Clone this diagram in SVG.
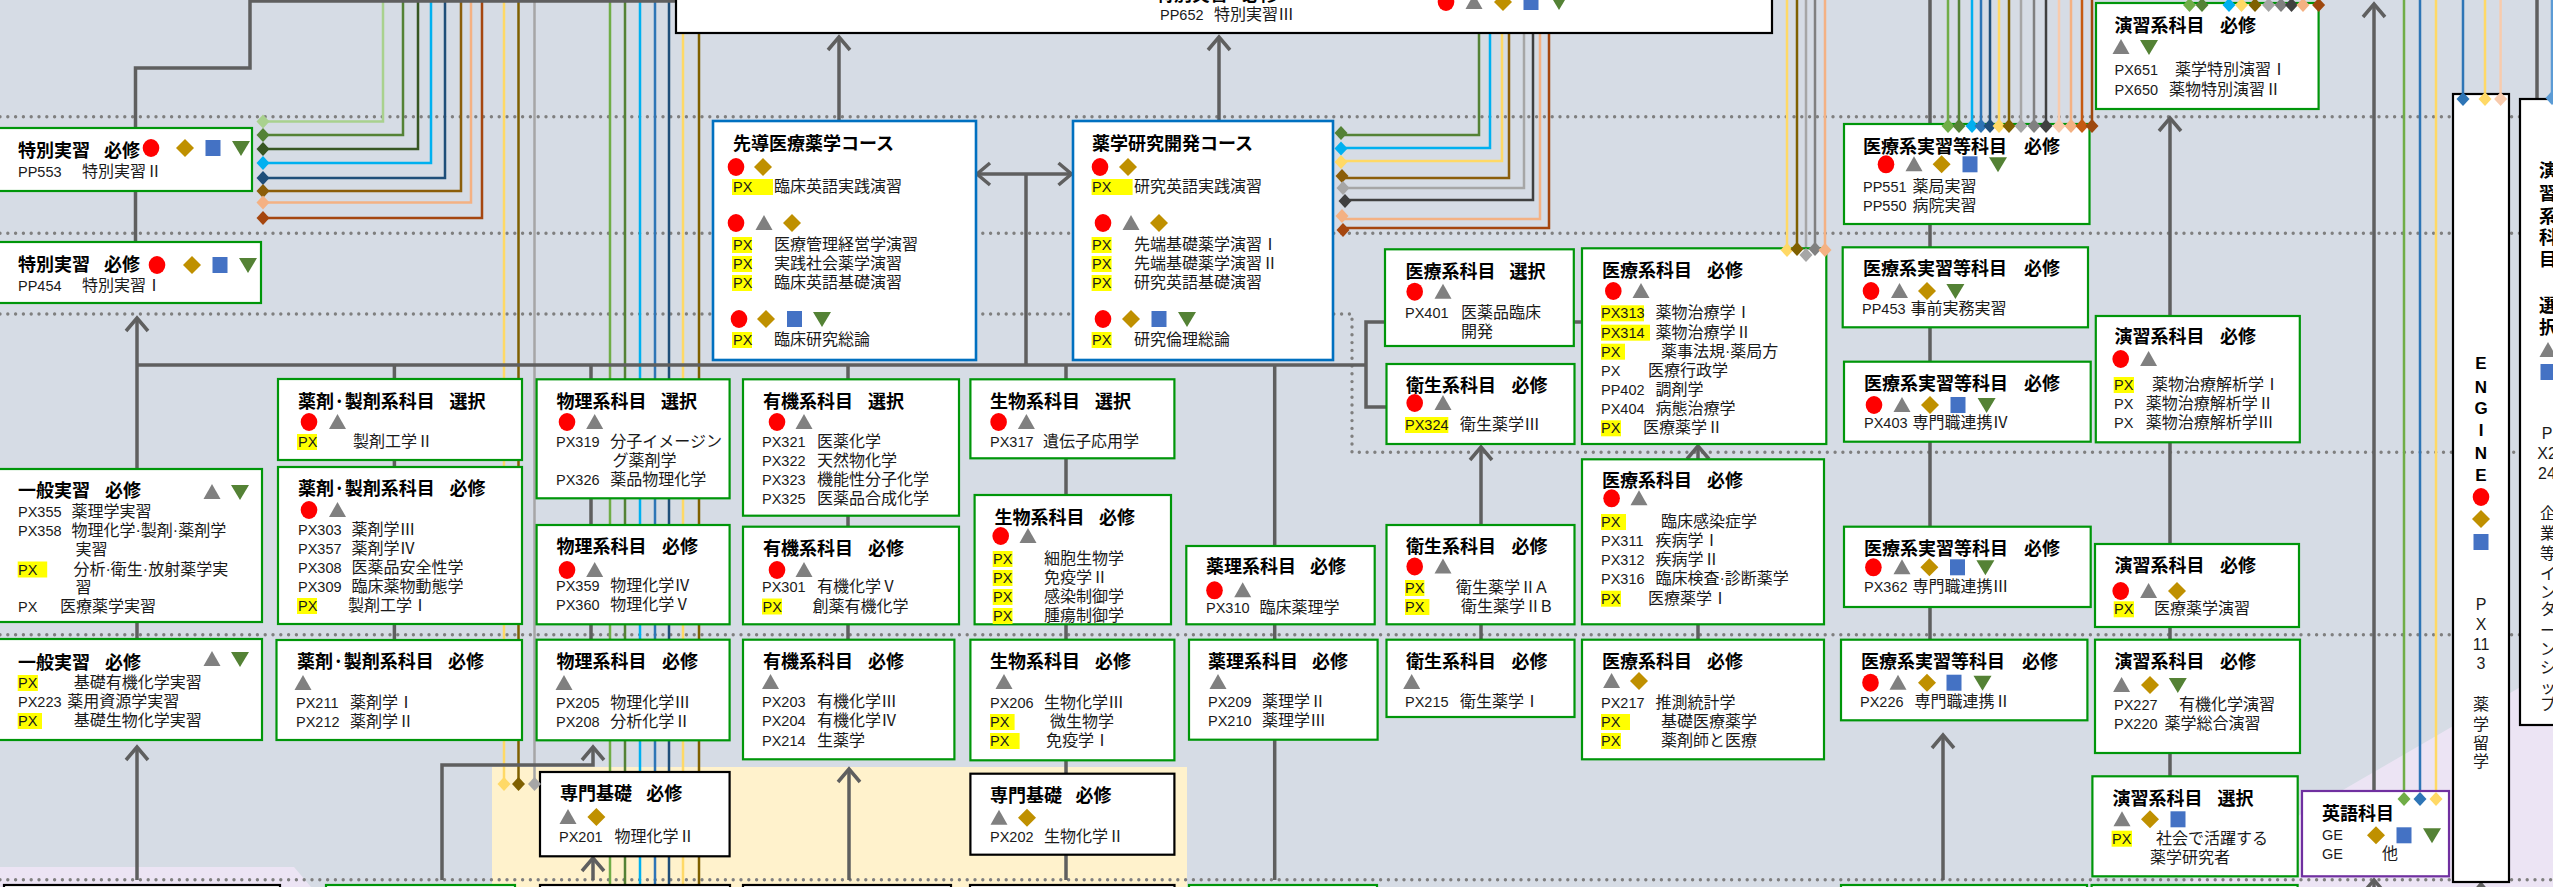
<svg xmlns="http://www.w3.org/2000/svg" width="2553" height="887" viewBox="0 0 2553 887">
<style>
.bg{fill:#D6DCE5}
.n{fill:#fff;stroke:#00960A;stroke-width:2.2}
.nc{fill:#fff;stroke:#0070C0;stroke-width:2.6}
.nk{fill:#fff;stroke:#000;stroke-width:2.2}
.np{fill:#fff;stroke:#7030A0;stroke-width:2.2}
.t{font-family:"Noto Sans CJK JP",sans-serif;font-weight:700;font-size:18px;fill:#000}
.b{font-family:"Liberation Sans","Noto Sans CJK JP",sans-serif;font-size:16px;fill:#1a1a1a}
.c{font-size:14.5px}
.m{text-anchor:middle}
.e{font-family:"Liberation Sans",sans-serif;font-weight:700;font-size:17px;fill:#000;text-anchor:middle}
.hl{fill:#FFFF00}
.g{fill:none;stroke:#5F5F5F;stroke-width:3.5}
.ga{fill:none;stroke:#5F5F5F;stroke-width:3.5;marker-end:url(#ar)}
.cl{fill:none;stroke-width:2.5}
.dt{fill:none;stroke:#7F7F7F;stroke-width:3.4;stroke-dasharray:0 7.8;stroke-linecap:round}
</style>
<defs>
<marker id="ar" markerUnits="userSpaceOnUse" viewBox="-16 -13 20 26" refX="0" refY="0" markerWidth="20" markerHeight="26" orient="auto-start-reverse">
<path d="M-13,-11 L0,0 L-13,11" fill="none" stroke="#5F5F5F" stroke-width="3.5"/>
</marker>
<ellipse id="ic-c" rx="8.3" ry="9" fill="#FF0000"/>
<path id="ic-t" d="M0,-8 L8.5,7 L-8.5,7Z" fill="#808080"/>
<path id="ic-d" d="M0,-9 L9,0 L0,9 L-9,0Z" fill="#BF9000"/>
<rect id="ic-s" x="-7.5" y="-8" width="15" height="16" fill="#4472C4"/>
<path id="ic-v" d="M-9,-7 L9,-7 L0,8Z" fill="#548235"/>
<path id="dm" d="M0,-7 L6.5,0 L0,7 L-6.5,0Z"/>
</defs>

<rect class="bg" x="0" y="0" width="2553" height="887"/>
<g id="regions">
<rect x="492" y="767" width="695" height="120" fill="#FFF2CC"/>
<polygon points="0,867 294,867 311,887 0,887" fill="#ECE4F4"/>
<polygon points="2176,887 2553,668 2553,887" fill="#ECE4F4"/>
</g>

<g id="grid">
<path class="dt" d="M0,116.7H2553"/>
<path class="dt" d="M0,233.3H2553"/>
<path class="dt" d="M0,314H1352V452.3H2553"/>
<path class="dt" d="M0,634.7H2553"/>
<path class="dt" d="M0,879.7H2553"/>
</g>

<g id="connectors">
<path class="cl" stroke="#A9D18E" d="M383,0V121.5H263"/>
<path class="cl" stroke="#548235" d="M403,0V135H263"/>
<path class="cl" stroke="#375623" d="M418,0V149H263"/>
<path class="cl" stroke="#00B0F0" d="M431,0V163H263"/>
<path class="cl" stroke="#1F4E79" d="M445,0V178H263"/>
<path class="cl" stroke="#8B5E0A" d="M461,0V191H263"/>
<path class="cl" stroke="#F4B183" d="M471,0V202.5H263"/>
<path class="cl" stroke="#A5460F" d="M482,0V218H263"/>
<path class="cl" stroke="#FFD966" d="M504,0V784"/>
<path class="cl" stroke="#7F6000" d="M518.5,0V784"/>
<path class="cl" stroke="#A6A6A6" d="M534.5,0V784"/>
<path class="cl" stroke="#70AD47" d="M610,0V887"/>
<path class="cl" stroke="#548235" d="M625,0V887"/>
<path class="cl" stroke="#00B0F0" d="M640,0V887"/>
<path class="cl" stroke="#2E75B6" d="M655,0V887"/>
<path class="cl" stroke="#1F4E79" d="M669,0V887"/>
<path class="cl" stroke="#FFD966" d="M683,0V887"/>
<path class="cl" stroke="#7F6000" d="M699,0V887"/>
<path class="cl" stroke="#548235" d="M1479,33V135H1342"/>
<path class="cl" stroke="#00B0F0" d="M1490,33V148H1342"/>
<path class="cl" stroke="#FFD966" d="M1502,33V161H1342"/>
<path class="cl" stroke="#8B5E0A" d="M1509,33V178H1342"/>
<path class="cl" stroke="#A6A6A6" d="M1524,33V188H1342"/>
<path class="cl" stroke="#404040" d="M1533,33V200H1342"/>
<path class="cl" stroke="#F4B183" d="M1540,33V219H1342"/>
<path class="cl" stroke="#A5460F" d="M1549,33V228H1342"/>
<path class="cl" stroke="#FFD966" d="M1787,0V249"/>
<path class="cl" stroke="#7F6000" d="M1797,0V249"/>
<path class="cl" stroke="#A6A6A6" d="M1806,0V255"/>
<path class="cl" stroke="#808080" d="M1815,0V249"/>
<path class="cl" stroke="#F4B183" d="M1825,0V250"/>
<path class="cl" stroke="#70AD47" d="M1948,0V126"/>
<path class="cl" stroke="#548235" d="M1959,0V126"/>
<path class="cl" stroke="#00B0F0" d="M1972,0V126"/>
<path class="cl" stroke="#2E75B6" d="M1981,0V126"/>
<path class="cl" stroke="#1F4E79" d="M1990,0V126"/>
<path class="cl" stroke="#FFD966" d="M1999,0V126"/>
<path class="cl" stroke="#7F6000" d="M2009,0V126"/>
<path class="cl" stroke="#A6A6A6" d="M2021,0V126"/>
<path class="cl" stroke="#808080" d="M2034,0V126"/>
<path class="cl" stroke="#404040" d="M2046,0V126"/>
<path class="cl" stroke="#F8CBAD" d="M2059,0V126"/>
<path class="cl" stroke="#F4B183" d="M2071,0V126"/>
<path class="cl" stroke="#C55A11" d="M2082,0V126"/>
<path class="cl" stroke="#9E480E" d="M2092,0V126"/>
<path class="cl" stroke="#70AD47" d="M2404,0V799"/>
<path class="cl" stroke="#2E75B6" d="M2420,0V799"/>
<path class="cl" stroke="#FFD966" d="M2436,0V799"/>
<path class="cl" stroke="#2E75B6" d="M2463,0V99"/>
<path class="cl" stroke="#FFD966" d="M2485,0V99"/>
<path class="cl" stroke="#F8CBAD" d="M2500.6,0V99"/>
<path class="cl" stroke="#5B9BD5" d="M2552,0V98"/>

<path class="g" d="M135.5,242V68H250V1H676"/>
<path class="ga" d="M137,468V318"/>
<path class="g" d="M137,365H1366"/>
<path class="g" d="M394.4,365V379M394.4,460V467M394.4,624V640"/>
<path class="g" d="M591,365V379M591,498V525M591,624V640"/>
<path class="g" d="M848,365V379M848,516V527M848,624V640"/>
<path class="g" d="M1066,365V379M1066,458V495M1066,624V640M1066,760V774M1066,855V880"/>
<path class="g" d="M1274.7,365V546M1274.7,624V640M1274.7,740V880"/>
<path class="g" d="M1026,174V365"/>
<path class="g" style="marker-start:url(#ar);marker-end:url(#ar)" d="M977,174H1071.5"/>
<path class="ga" d="M839,121V37"/>
<path class="ga" d="M1219,121V37"/>
<path class="g" d="M1366,365V322H1385M1366,365V407H1386.5M1574,322H1582"/>
<path class="g" d="M137,622V639"/>
<path class="ga" d="M137,880V747"/>
<path class="ga" d="M442,880V765H593V747"/>
<path class="ga" d="M593,880V858"/>
<path class="ga" d="M849,880V769"/>
<path class="ga" d="M1481,525V447"/>
<path class="g" d="M1481,624V640"/>
<path class="ga" d="M1698,459V446"/>
<path class="g" d="M1698,624V640"/>
<path class="g" d="M1930,0V124M1930,224V247M1930,327V362M1930,442V527M1930,607V640"/>
<path class="ga" d="M1943,880V735"/>
<path class="ga" d="M2170,316V118"/>
<path class="g" d="M2170,442V544M2170,627V640M2170,753V776"/>
<path class="ga" d="M2374,791V4"/>
<path class="g" d="M2537,0V99"/>
<path class="ga" d="M2374,900V880"/>
<path class="ga" d="M2481,900V884"/>
</g>

<g id="next-row-boxes">
<rect class="nk" x="4" y="885" width="276" height="30"/>
<rect class="n" x="326" y="885" width="189" height="30"/>
<rect class="nk" x="540" y="885" width="190" height="30"/>
<rect class="nk" x="743" y="885" width="208" height="30"/>
<rect class="nk" x="970" y="885" width="204.5" height="30"/>
<rect class="n" x="1189" y="885" width="188" height="30"/>
<rect class="n" x="1841" y="885" width="246" height="30"/>
<rect class="n" x="2091.6" y="885" width="206" height="30"/>
</g>

<g id="n-tokubetsu3">
<rect class="nk" x="676" y="-10" width="1096" height="43"/>
<text class="t" x="1156" y="1">特別実習<tspan x="1242">必修</tspan></text>
<use href="#ic-c" x="1446" y="2"/><use href="#ic-t" x="1474" y="2"/><use href="#ic-d" x="1503" y="2"/><use href="#ic-s" x="1531" y="2"/><use href="#ic-v" x="1559" y="2"/>
<text class="b" y="20"><tspan class="c" x="1160">PP652</tspan><tspan x="1214">特別実習Ⅲ</tspan></text>
</g>

<g id="n-pp553">
<rect class="n" x="-3" y="128" width="255" height="63"/>
<text class="t" x="18" y="157">特別実習<tspan x="104">必修</tspan></text>
<use href="#ic-c" x="151" y="148"/><use href="#ic-d" x="185" y="148"/><use href="#ic-s" x="213" y="148"/><use href="#ic-v" x="241" y="148"/>
<text class="b" y="177"><tspan class="c" x="18">PP553</tspan><tspan x="82">特別実習Ⅱ</tspan></text>
</g>

<g id="n-pp454">
<rect class="n" x="-3" y="242" width="264" height="61"/>
<text class="t" x="18" y="271">特別実習<tspan x="104">必修</tspan></text>
<use href="#ic-c" x="157" y="265"/><use href="#ic-d" x="192" y="265"/><use href="#ic-s" x="220" y="265"/><use href="#ic-v" x="248" y="265"/>
<text class="b" y="291"><tspan class="c" x="18">PP454</tspan><tspan x="82">特別実習Ⅰ</tspan></text>
</g>

<g id="n-course1">
<rect class="nc" x="713" y="121" width="263" height="239"/>
<text class="t" x="733" y="150">先導医療薬学コース</text>
<use href="#ic-c" x="736" y="167"/><use href="#ic-d" x="763" y="167"/>
<rect class="hl" x="732" y="179" width="41" height="16"/>
<text class="b" y="192"><tspan class="c" x="733">PX</tspan><tspan x="774">臨床英語実践演習</tspan></text>
<use href="#ic-c" x="736" y="223"/><use href="#ic-t" x="764" y="223"/><use href="#ic-d" x="792" y="223"/>
<rect class="hl" x="732" y="237" width="20" height="16"/>
<rect class="hl" x="732" y="256" width="20" height="16"/>
<rect class="hl" x="732" y="275" width="20" height="16"/>
<text class="b" y="250"><tspan class="c" x="733">PX</tspan><tspan x="774">医療管理経営学演習</tspan></text>
<text class="b" y="269"><tspan class="c" x="733">PX</tspan><tspan x="774">実践社会薬学演習</tspan></text>
<text class="b" y="288"><tspan class="c" x="733">PX</tspan><tspan x="774">臨床英語基礎演習</tspan></text>
<use href="#ic-c" x="739" y="319"/><use href="#ic-d" x="766" y="319"/><use href="#ic-s" x="794.5" y="319"/><use href="#ic-v" x="822" y="319"/>
<rect class="hl" x="732" y="332" width="20" height="16"/>
<text class="b" y="345"><tspan class="c" x="733">PX</tspan><tspan x="774">臨床研究総論</tspan></text>
</g>

<g id="n-course2">
<rect class="nc" x="1073" y="121" width="260" height="239"/>
<text class="t" x="1092" y="150">薬学研究開発コース</text>
<use href="#ic-c" x="1100" y="167"/><use href="#ic-d" x="1128" y="167"/>
<rect class="hl" x="1091.6" y="179" width="41" height="16"/>
<text class="b" y="192"><tspan class="c" x="1092">PX</tspan><tspan x="1134">研究英語実践演習</tspan></text>
<use href="#ic-c" x="1103" y="223"/><use href="#ic-t" x="1131" y="223"/><use href="#ic-d" x="1159" y="223"/>
<rect class="hl" x="1091.6" y="237" width="20" height="16"/>
<rect class="hl" x="1091.6" y="256" width="20" height="16"/>
<rect class="hl" x="1091.6" y="275" width="20" height="16"/>
<text class="b" y="250"><tspan class="c" x="1092">PX</tspan><tspan x="1134">先端基礎薬学演習Ⅰ</tspan></text>
<text class="b" y="269"><tspan class="c" x="1092">PX</tspan><tspan x="1134">先端基礎薬学演習Ⅱ</tspan></text>
<text class="b" y="288"><tspan class="c" x="1092">PX</tspan><tspan x="1134">研究英語基礎演習</tspan></text>
<use href="#ic-c" x="1103" y="319"/><use href="#ic-d" x="1131" y="319"/><use href="#ic-s" x="1159" y="319"/><use href="#ic-v" x="1187" y="319"/>
<rect class="hl" x="1091.6" y="332" width="20" height="16"/>
<text class="b" y="345"><tspan class="c" x="1092">PX</tspan><tspan x="1134">研究倫理総論</tspan></text>
</g>

<g id="n-yakuzai-s">
<rect class="n" x="278" y="379" width="244" height="81"/>
<text class="t" x="298" y="408">薬剤·製剤系科目<tspan x="449.5">選択</tspan></text>
<use href="#ic-c" x="309" y="422"/><use href="#ic-t" x="337.5" y="422"/>
<rect class="hl" x="297" y="434" width="20" height="16"/>
<text class="b" y="447"><tspan class="c" x="298">PX</tspan><tspan x="353">製剤工学Ⅱ</tspan></text>
</g>

<g id="n-yakuzai-r1">
<rect class="n" x="278" y="467" width="244" height="157"/>
<text class="t" x="298" y="495">薬剤·製剤系科目<tspan x="449.5">必修</tspan></text>
<use href="#ic-c" x="309" y="510"/><use href="#ic-t" x="337.5" y="510"/>
<text class="b" y="535"><tspan class="c" x="298">PX303</tspan><tspan x="351.5">薬剤学Ⅲ</tspan></text>
<text class="b" y="554"><tspan class="c" x="298">PX357</tspan><tspan x="351.5">薬剤学Ⅳ</tspan></text>
<text class="b" y="573"><tspan class="c" x="298">PX308</tspan><tspan x="351.5">医薬品安全性学</tspan></text>
<text class="b" y="592"><tspan class="c" x="298">PX309</tspan><tspan x="351.5">臨床薬物動態学</tspan></text>
<rect class="hl" x="297" y="598" width="20" height="16"/>
<text class="b" y="611"><tspan class="c" x="298">PX</tspan><tspan x="348">製剤工学Ⅰ</tspan></text>
</g>

<g id="n-ippan-1">
<rect class="n" x="-3" y="469" width="265" height="153"/>
<text class="t" x="18" y="497">一般実習<tspan x="105">必修</tspan></text>
<use href="#ic-t" x="212" y="492"/><use href="#ic-v" x="240" y="492"/>
<text class="b" y="517"><tspan class="c" x="18">PX355</tspan><tspan x="71.5">薬理学実習</tspan></text>
<text class="b" y="536"><tspan class="c" x="18">PX358</tspan><tspan x="71.5">物理化学·製剤·薬剤学</tspan></text>
<text class="b" x="75.5" y="555">実習</text>
<rect class="hl" x="17.7" y="561.5" width="29.5" height="16"/>
<text class="b" y="574.5"><tspan class="c" x="18">PX</tspan><tspan x="73.5">分析·衛生·放射薬学実</tspan></text>
<text class="b" x="75.5" y="593">習</text>
<text class="b" y="612"><tspan class="c" x="18">PX</tspan><tspan x="60">医療薬学実習</tspan></text>
</g>

<g id="n-ippan-2">
<rect class="n" x="-3" y="639" width="265" height="101"/>
<text class="t" x="18" y="669">一般実習<tspan x="105">必修</tspan></text>
<use href="#ic-t" x="212" y="659"/><use href="#ic-v" x="240" y="659"/>
<rect class="hl" x="17.7" y="675" width="20.2" height="16"/>
<text class="b" y="688"><tspan class="c" x="18">PX</tspan><tspan x="73.7">基礎有機化学実習</tspan></text>
<text class="b" y="707"><tspan class="c" x="18">PX223</tspan><tspan x="67.3">薬用資源学実習</tspan></text>
<rect class="hl" x="17.7" y="713" width="24.3" height="16"/>
<text class="b" y="726"><tspan class="c" x="18">PX</tspan><tspan x="73.7">基礎生物化学実習</tspan></text>
</g>

<g id="n-yakuzai-r2">
<rect class="n" x="276.5" y="640" width="245.5" height="100"/>
<text class="t" x="297" y="668">薬剤·製剤系科目<tspan x="448">必修</tspan></text>
<use href="#ic-t" x="303" y="683"/>
<text class="b" y="707.5"><tspan class="c" x="296">PX211</tspan><tspan x="350">薬剤学Ⅰ</tspan></text>
<text class="b" y="727"><tspan class="c" x="296">PX212</tspan><tspan x="350">薬剤学Ⅱ</tspan></text>
</g>

<g id="n-butsuri-s">
<rect class="n" x="536.6" y="379.3" width="193" height="119"/>
<text class="t" x="556.4" y="408">物理系科目<tspan x="661">選択</tspan></text>
<use href="#ic-c" x="567" y="422"/><use href="#ic-t" x="594.7" y="422"/>
<text class="b" y="447"><tspan class="c" x="556">PX319</tspan><tspan x="610.3">分子イメージン</tspan></text>
<text class="b" x="612.4" y="466">グ薬剤学</text>
<text class="b" y="485"><tspan class="c" x="556">PX326</tspan><tspan x="610.3">薬品物理化学</tspan></text>
</g>

<g id="n-butsuri-r1">
<rect class="n" x="536.6" y="525" width="193" height="99.3"/>
<text class="t" x="556.4" y="553.3">物理系科目<tspan x="662">必修</tspan></text>
<use href="#ic-c" x="567" y="570"/><use href="#ic-t" x="594.7" y="570"/>
<text class="b" y="590.5"><tspan class="c" x="556">PX359</tspan><tspan x="610.3">物理化学Ⅳ</tspan></text>
<text class="b" y="610"><tspan class="c" x="556">PX360</tspan><tspan x="610.3">物理化学Ⅴ</tspan></text>
</g>

<g id="n-butsuri-r2">
<rect class="n" x="536.6" y="639.7" width="193" height="100.6"/>
<text class="t" x="556.4" y="668">物理系科目<tspan x="662">必修</tspan></text>
<use href="#ic-t" x="564" y="683"/>
<text class="b" y="707.5"><tspan class="c" x="556">PX205</tspan><tspan x="610.3">物理化学Ⅲ</tspan></text>
<text class="b" y="727"><tspan class="c" x="556">PX208</tspan><tspan x="610.3">分析化学Ⅱ</tspan></text>
</g>

<g id="n-senmon-1">
<rect class="nk" x="540" y="772" width="189.6" height="84.3"/>
<text class="t" x="560" y="800">専門基礎<tspan x="646.3">必修</tspan></text>
<use href="#ic-t" x="568" y="817"/><use href="#ic-d" x="596.4" y="817"/>
<text class="b" y="842"><tspan class="c" x="559">PX201</tspan><tspan x="614.5">物理化学Ⅱ</tspan></text>
</g>

<g id="n-yuki-s">
<rect class="n" x="743" y="379.3" width="216" height="136.4"/>
<text class="t" x="763" y="408">有機系科目<tspan x="868">選択</tspan></text>
<use href="#ic-c" x="777" y="422"/><use href="#ic-t" x="804" y="422"/>
<text class="b" y="447"><tspan class="c" x="762">PX321</tspan><tspan x="817">医薬化学</tspan></text>
<text class="b" y="466"><tspan class="c" x="762">PX322</tspan><tspan x="817">天然物化学</tspan></text>
<text class="b" y="485"><tspan class="c" x="762">PX323</tspan><tspan x="817">機能性分子化学</tspan></text>
<text class="b" y="504.3"><tspan class="c" x="762">PX325</tspan><tspan x="817">医薬品合成化学</tspan></text>
</g>

<g id="n-yuki-r1">
<rect class="n" x="743" y="526.7" width="216" height="97.6"/>
<text class="t" x="763" y="555">有機系科目<tspan x="868">必修</tspan></text>
<use href="#ic-c" x="777" y="570"/><use href="#ic-t" x="804" y="570"/>
<text class="b" y="592"><tspan class="c" x="762">PX301</tspan><tspan x="817">有機化学Ⅴ</tspan></text>
<rect class="hl" x="762" y="598.5" width="20" height="16"/>
<text class="b" y="611.5"><tspan class="c" x="762.5">PX</tspan><tspan x="812.6">創薬有機化学</tspan></text>
</g>

<g id="n-yuki-r2">
<rect class="n" x="743" y="639.7" width="211.4" height="119.6"/>
<text class="t" x="763" y="668">有機系科目<tspan x="868">必修</tspan></text>
<use href="#ic-t" x="770.5" y="682"/>
<text class="b" y="707"><tspan class="c" x="762">PX203</tspan><tspan x="817">有機化学Ⅲ</tspan></text>
<text class="b" y="726.3"><tspan class="c" x="762">PX204</tspan><tspan x="817">有機化学Ⅳ</tspan></text>
<text class="b" y="745.5"><tspan class="c" x="762">PX214</tspan><tspan x="817">生薬学</tspan></text>
</g>

<g id="n-seibutsu-s">
<rect class="n" x="970.4" y="379.3" width="204" height="79"/>
<text class="t" x="990" y="408">生物系科目<tspan x="1095">選択</tspan></text>
<use href="#ic-c" x="998.6" y="422"/><use href="#ic-t" x="1026.4" y="422"/>
<text class="b" y="446.5"><tspan class="c" x="990">PX317</tspan><tspan x="1043">遺伝子応用学</tspan></text>
</g>

<g id="n-seibutsu-r1">
<rect class="n" x="974.6" y="495" width="196.4" height="129.3"/>
<text class="t" x="994.4" y="523.5">生物系科目<tspan x="1099">必修</tspan></text>
<use href="#ic-c" x="1000.7" y="536"/><use href="#ic-t" x="1028" y="536"/>
<rect class="hl" x="992.7" y="551" width="19.8" height="16"/>
<rect class="hl" x="992.7" y="570" width="19.8" height="16"/>
<rect class="hl" x="992.7" y="589" width="19.8" height="16"/>
<rect class="hl" x="992.7" y="608" width="19.8" height="16"/>
<text class="b" y="564"><tspan class="c" x="993">PX</tspan><tspan x="1044">細胞生物学</tspan></text>
<text class="b" y="583"><tspan class="c" x="993">PX</tspan><tspan x="1044">免疫学Ⅱ</tspan></text>
<text class="b" y="602"><tspan class="c" x="993">PX</tspan><tspan x="1044">感染制御学</tspan></text>
<text class="b" y="621"><tspan class="c" x="993">PX</tspan><tspan x="1044">腫瘍制御学</tspan></text>
</g>

<g id="n-seibutsu-r2">
<rect class="n" x="970.4" y="639.7" width="204" height="120.6"/>
<text class="t" x="990" y="668">生物系科目<tspan x="1095">必修</tspan></text>
<use href="#ic-t" x="1004" y="682"/>
<text class="b" y="707.5"><tspan class="c" x="990">PX206</tspan><tspan x="1044">生物化学Ⅲ</tspan></text>
<rect class="hl" x="990" y="714" width="24.6" height="16"/>
<text class="b" y="727"><tspan class="c" x="990">PX</tspan><tspan x="1050">微生物学</tspan></text>
<rect class="hl" x="990" y="733" width="29.6" height="16"/>
<text class="b" y="746"><tspan class="c" x="990">PX</tspan><tspan x="1046">免疫学Ⅰ</tspan></text>
</g>

<g id="n-senmon-2">
<rect class="nk" x="970.4" y="773.7" width="204" height="81"/>
<text class="t" x="990" y="802">専門基礎<tspan x="1075.6">必修</tspan></text>
<use href="#ic-t" x="999" y="817.7"/><use href="#ic-d" x="1027" y="817.7"/>
<text class="b" y="842"><tspan class="c" x="990">PX202</tspan><tspan x="1044">生物化学Ⅱ</tspan></text>
</g>

<g id="n-yakuri-1">
<rect class="n" x="1186.3" y="546" width="188.4" height="78.3"/>
<text class="t" x="1206" y="573.3">薬理系科目<tspan x="1310">必修</tspan></text>
<use href="#ic-c" x="1214.5" y="590.3"/><use href="#ic-t" x="1242.7" y="590.3"/>
<text class="b" y="613"><tspan class="c" x="1206">PX310</tspan><tspan x="1259.5">臨床薬理学</tspan></text>
</g>

<g id="n-yakuri-2">
<rect class="n" x="1189" y="639.7" width="188.6" height="100"/>
<text class="t" x="1208" y="668">薬理系科目<tspan x="1312">必修</tspan></text>
<use href="#ic-t" x="1218" y="682"/>
<text class="b" y="707"><tspan class="c" x="1208">PX209</tspan><tspan x="1262">薬理学Ⅱ</tspan></text>
<text class="b" y="726.3"><tspan class="c" x="1208">PX210</tspan><tspan x="1262">薬理学Ⅲ</tspan></text>
</g>

<g id="n-iryo-s">
<rect class="n" x="1385" y="249.3" width="188.8" height="96.7"/>
<text class="t" x="1405.4" y="278.3">医療系科目<tspan x="1509.4">選択</tspan></text>
<use href="#ic-c" x="1414.7" y="291.7"/><use href="#ic-t" x="1443" y="291.7"/>
<text class="b" y="317.7"><tspan class="c" x="1405">PX401</tspan><tspan x="1461">医薬品臨床</tspan></text>
<text class="b" x="1461" y="336.7">開発</text>
</g>

<g id="n-eisei-3">
<rect class="n" x="1386.5" y="364" width="188" height="80"/>
<text class="t" x="1406" y="391.7">衛生系科目<tspan x="1511.5">必修</tspan></text>
<use href="#ic-c" x="1414.7" y="403"/><use href="#ic-t" x="1443" y="403"/>
<rect class="hl" x="1405" y="417" width="43.3" height="16"/>
<text class="b" y="430"><tspan class="c" x="1405">PX324</tspan><tspan x="1460">衛生薬学Ⅲ</tspan></text>
</g>

<g id="n-iryo-r1">
<rect class="n" x="1582" y="248.3" width="244.3" height="195.7"/>
<text class="t" x="1602" y="276.7">医療系科目<tspan x="1707">必修</tspan></text>
<use href="#ic-c" x="1613.3" y="291"/><use href="#ic-t" x="1641" y="291"/>
<rect class="hl" x="1601" y="305.3" width="43" height="16"/>
<rect class="hl" x="1601" y="324.7" width="49" height="16"/>
<rect class="hl" x="1601" y="343.7" width="24" height="16"/>
<rect class="hl" x="1601" y="420.3" width="20" height="16"/>
<text class="b" y="318.3"><tspan class="c" x="1601">PX313</tspan><tspan x="1655.4">薬物治療学Ⅰ</tspan></text>
<text class="b" y="337.7"><tspan class="c" x="1601">PX314</tspan><tspan x="1655.4">薬物治療学Ⅱ</tspan></text>
<text class="b" y="356.7"><tspan class="c" x="1601">PX</tspan><tspan x="1661">薬事法規·薬局方</tspan></text>
<text class="b" y="376"><tspan class="c" x="1601">PX</tspan><tspan x="1648">医療行政学</tspan></text>
<text class="b" y="395"><tspan class="c" x="1601">PP402</tspan><tspan x="1655.4">調剤学</tspan></text>
<text class="b" y="414"><tspan class="c" x="1601">PX404</tspan><tspan x="1655.4">病態治療学</tspan></text>
<text class="b" y="433.3"><tspan class="c" x="1601">PX</tspan><tspan x="1643">医療薬学Ⅱ</tspan></text>
</g>

<g id="n-iryo-r2">
<rect class="n" x="1582" y="459.3" width="242" height="165"/>
<text class="t" x="1602" y="487.3">医療系科目<tspan x="1707">必修</tspan></text>
<use href="#ic-c" x="1611.6" y="498.3"/><use href="#ic-t" x="1639" y="498.3"/>
<rect class="hl" x="1601" y="514" width="25" height="16"/>
<rect class="hl" x="1601" y="590.7" width="20" height="16"/>
<text class="b" y="527"><tspan class="c" x="1601">PX</tspan><tspan x="1661">臨床感染症学</tspan></text>
<text class="b" y="546"><tspan class="c" x="1601">PX311</tspan><tspan x="1655.4">疾病学Ⅰ</tspan></text>
<text class="b" y="565"><tspan class="c" x="1601">PX312</tspan><tspan x="1655.4">疾病学Ⅱ</tspan></text>
<text class="b" y="584"><tspan class="c" x="1601">PX316</tspan><tspan x="1655.4">臨床検査·診断薬学</tspan></text>
<text class="b" y="603.7"><tspan class="c" x="1601">PX</tspan><tspan x="1648">医療薬学Ⅰ</tspan></text>
</g>

<g id="n-eisei-2">
<rect class="n" x="1386.5" y="525" width="188" height="99.3"/>
<text class="t" x="1406" y="553.3">衛生系科目<tspan x="1511.5">必修</tspan></text>
<use href="#ic-c" x="1414.7" y="566.5"/><use href="#ic-t" x="1443" y="566.5"/>
<rect class="hl" x="1405" y="580" width="19.4" height="16"/>
<rect class="hl" x="1405" y="599" width="24.4" height="16"/>
<text class="b" y="593"><tspan class="c" x="1405">PX</tspan><tspan x="1456">衛生薬学ⅡA</tspan></text>
<text class="b" y="612"><tspan class="c" x="1405">PX</tspan><tspan x="1461">衛生薬学ⅡB</tspan></text>
</g>

<g id="n-eisei-1">
<rect class="n" x="1386.5" y="639.7" width="188" height="77.3"/>
<text class="t" x="1406" y="668">衛生系科目<tspan x="1511.5">必修</tspan></text>
<use href="#ic-t" x="1411.7" y="682"/>
<text class="b" y="707"><tspan class="c" x="1405">PX215</tspan><tspan x="1460">衛生薬学Ⅰ</tspan></text>
</g>

<g id="n-iryo-r3">
<rect class="n" x="1582" y="639.7" width="242" height="119.6"/>
<text class="t" x="1602" y="668">医療系科目<tspan x="1707">必修</tspan></text>
<use href="#ic-t" x="1611.6" y="681"/><use href="#ic-d" x="1639" y="681"/>
<text class="b" y="707.7"><tspan class="c" x="1601">PX217</tspan><tspan x="1655.4">推測統計学</tspan></text>
<rect class="hl" x="1601" y="714" width="29" height="16"/>
<rect class="hl" x="1601" y="733" width="20" height="16"/>
<text class="b" y="727"><tspan class="c" x="1601">PX</tspan><tspan x="1661">基礎医療薬学</tspan></text>
<text class="b" y="746"><tspan class="c" x="1601">PX</tspan><tspan x="1661">薬剤師と医療</tspan></text>
</g>

<g id="n-jisshu-1">
<rect class="n" x="1844" y="124" width="245.5" height="100"/>
<text class="t" x="1863" y="153.3">医療系実習等科目<tspan x="2024">必修</tspan></text>
<use href="#ic-c" x="1886" y="164.3"/><use href="#ic-t" x="1914" y="164.3"/><use href="#ic-d" x="1941.6" y="164.3"/><use href="#ic-s" x="1970" y="164.3"/><use href="#ic-v" x="1998" y="164.3"/>
<text class="b" y="191.7"><tspan class="c" x="1863">PP551</tspan><tspan x="1912.5">薬局実習</tspan></text>
<text class="b" y="210.7"><tspan class="c" x="1863">PP550</tspan><tspan x="1912.5">病院実習</tspan></text>
</g>

<g id="n-jisshu-2">
<rect class="n" x="1842.7" y="247.3" width="245.3" height="80"/>
<text class="t" x="1863" y="275">医療系実習等科目<tspan x="2024">必修</tspan></text>
<use href="#ic-c" x="1871" y="291"/><use href="#ic-t" x="1899.5" y="291"/><use href="#ic-d" x="1927" y="291"/><use href="#ic-v" x="1955.4" y="291"/>
<text class="b" y="314"><tspan class="c" x="1862">PP453</tspan><tspan x="1910.4">事前実務実習</tspan></text>
</g>

<g id="n-jisshu-3">
<rect class="n" x="1844" y="361.7" width="246.7" height="80"/>
<text class="t" x="1864" y="390">医療系実習等科目<tspan x="2024">必修</tspan></text>
<use href="#ic-c" x="1874" y="405"/><use href="#ic-t" x="1902" y="405"/><use href="#ic-d" x="1930" y="405"/><use href="#ic-s" x="1958" y="405"/><use href="#ic-v" x="1986.6" y="405"/>
<text class="b" y="428.3"><tspan class="c" x="1864">PX403</tspan><tspan x="1912.5">専門職連携Ⅳ</tspan></text>
</g>

<g id="n-jisshu-4">
<rect class="n" x="1844" y="526.7" width="246.7" height="80.3"/>
<text class="t" x="1864" y="555">医療系実習等科目<tspan x="2024">必修</tspan></text>
<use href="#ic-c" x="1873.4" y="567.3"/><use href="#ic-t" x="1902" y="567.3"/><use href="#ic-d" x="1929.4" y="567.3"/><use href="#ic-s" x="1957.5" y="567.3"/><use href="#ic-v" x="1985.4" y="567.3"/>
<text class="b" y="592"><tspan class="c" x="1864">PX362</tspan><tspan x="1912.5">専門職連携Ⅲ</tspan></text>
</g>

<g id="n-jisshu-5">
<rect class="n" x="1841" y="639.7" width="246.4" height="80.6"/>
<text class="t" x="1861" y="668">医療系実習等科目<tspan x="2022">必修</tspan></text>
<use href="#ic-c" x="1870.5" y="682.7"/><use href="#ic-t" x="1898" y="682.7"/><use href="#ic-d" x="1927" y="682.7"/><use href="#ic-s" x="1954" y="682.7"/><use href="#ic-v" x="1982.5" y="682.7"/>
<text class="b" y="707"><tspan class="c" x="1860">PX226</tspan><tspan x="1914.6">専門職連携Ⅱ</tspan></text>
</g>

<g id="n-enshu-1">
<rect class="n" x="2096" y="3" width="222.6" height="106"/>
<text class="t" x="2114.5" y="32">演習系科目<tspan x="2219.9">必修</tspan></text>
<use href="#ic-t" x="2121" y="47"/><use href="#ic-v" x="2149" y="47"/>
<text class="b" y="75"><tspan class="c" x="2114.5">PX651</tspan><tspan x="2175">薬学特別演習Ⅰ</tspan></text>
<text class="b" y="95"><tspan class="c" x="2114.5">PX650</tspan><tspan x="2169">薬物特別演習Ⅱ</tspan></text>
</g>

<g id="n-enshu-2">
<rect class="n" x="2095.8" y="316" width="204" height="126.3"/>
<text class="t" x="2114.5" y="343.3">演習系科目<tspan x="2219.9">必修</tspan></text>
<use href="#ic-c" x="2120.7" y="359"/><use href="#ic-t" x="2148.6" y="359"/>
<rect class="hl" x="2113.7" y="377" width="20.3" height="16"/>
<text class="b" y="390"><tspan class="c" x="2114">PX</tspan><tspan x="2152">薬物治療解析学Ⅰ</tspan></text>
<text class="b" y="409.3"><tspan class="c" x="2114">PX</tspan><tspan x="2145.7">薬物治療解析学Ⅱ</tspan></text>
<text class="b" y="428.3"><tspan class="c" x="2114">PX</tspan><tspan x="2145.7">薬物治療解析学Ⅲ</tspan></text>
</g>

<g id="n-enshu-3">
<rect class="n" x="2095" y="544" width="204" height="83"/>
<text class="t" x="2114.5" y="571.7">演習系科目<tspan x="2219.9">必修</tspan></text>
<use href="#ic-c" x="2120.7" y="591"/><use href="#ic-t" x="2148.6" y="591"/><use href="#ic-d" x="2177" y="591"/>
<rect class="hl" x="2113.7" y="601.3" width="20.3" height="16"/>
<text class="b" y="614.3"><tspan class="c" x="2114">PX</tspan><tspan x="2154">医療薬学演習</tspan></text>
</g>

<g id="n-enshu-4">
<rect class="n" x="2095" y="639.7" width="205" height="113.3"/>
<text class="t" x="2114.5" y="668">演習系科目<tspan x="2219.9">必修</tspan></text>
<use href="#ic-t" x="2121.6" y="685"/><use href="#ic-d" x="2150" y="685"/><use href="#ic-v" x="2177.8" y="685"/>
<text class="b" y="710.3"><tspan class="c" x="2114">PX227</tspan><tspan x="2179">有機化学演習</tspan></text>
<text class="b" y="729.3"><tspan class="c" x="2114">PX220</tspan><tspan x="2164.5">薬学総合演習</tspan></text>
</g>

<g id="n-enshu-5">
<rect class="n" x="2092.4" y="776.3" width="205.3" height="100"/>
<text class="t" x="2112.4" y="805.3">演習系科目<tspan x="2217.4">選択</tspan></text>
<use href="#ic-t" x="2122" y="819.3"/><use href="#ic-d" x="2150" y="819.3"/><use href="#ic-s" x="2178" y="819.3"/>
<rect class="hl" x="2111.6" y="830.7" width="20.4" height="16"/>
<text class="b" y="843.7"><tspan class="c" x="2112">PX</tspan><tspan x="2156">社会で活躍する</tspan></text>
<text class="b" x="2150" y="863">薬学研究者</text>
</g>

<g id="n-eigo">
<rect class="np" x="2302" y="791" width="147" height="85.3"/>
<text class="t" x="2322" y="820.3">英語科目</text>
<text class="b" y="840.3"><tspan class="c" x="2322">GE</tspan></text>
<use href="#ic-d" x="2376" y="835.3"/><use href="#ic-s" x="2404" y="835.3"/><use href="#ic-v" x="2432" y="835.3"/>
<text class="b" y="858.7"><tspan class="c" x="2322">GE</tspan><tspan x="2382">他</tspan></text>
</g>

<g id="n-engine">
<rect class="nk" x="2453" y="94" width="56" height="788"/>
<text class="e" x="2481" y="369">E</text>
<text class="e" x="2481" y="393">N</text>
<text class="e" x="2481" y="414">G</text>
<text class="e" x="2481" y="436">I</text>
<text class="e" x="2481" y="459">N</text>
<text class="e" x="2481" y="481">E</text>
<use href="#ic-c" x="2481" y="497"/><use href="#ic-d" x="2481" y="519"/><use href="#ic-s" x="2481" y="542"/>
<text class="b m" x="2481" y="610">P</text>
<text class="b m" x="2481" y="629.5">X</text>
<text class="b m" x="2481" y="649.5">11</text>
<text class="b m" x="2481" y="669">3</text>
<text class="b m" x="2481" y="709.7">薬</text>
<text class="b m" x="2481" y="729.7">学</text>
<text class="b m" x="2481" y="749">留</text>
<text class="b m" x="2481" y="767">学</text>
</g>

<g id="n-intern">
<rect class="nk" x="2520" y="99" width="60" height="626"/>
<text class="t m" x="2548" y="176.5">演</text>
<text class="t m" x="2548" y="200">習</text>
<text class="t m" x="2548" y="223">系</text>
<text class="t m" x="2548" y="244">科</text>
<text class="t m" x="2548" y="266">目</text>
<text class="t m" x="2548" y="312">選</text>
<text class="t m" x="2548" y="334">択</text>
<use href="#ic-t" x="2548" y="350"/><use href="#ic-s" x="2548" y="372"/>
<text class="b m" x="2547" y="439">P</text>
<text class="b m" x="2547" y="459">X2</text>
<text class="b m" x="2547" y="479">24</text>
<text class="b m" x="2548" y="519">企</text>
<text class="b m" x="2548" y="539">業</text>
<text class="b m" x="2548" y="559">等</text>
<text class="b m" x="2548" y="579">イ</text>
<text class="b m" x="2548" y="598">ン</text>
<text class="b m" x="2548" y="615">タ</text>
<text class="b m" x="2548" y="636">ー</text>
<text class="b m" x="2548" y="655">ン</text>
<text class="b m" x="2548" y="673">シ</text>
<text class="b m" x="2548" y="693">ッ</text>
<text class="b m" x="2548" y="710">プ</text>
</g>

<g id="connector-ends">
<use href="#dm" fill="#A9D18E" x="263" y="121.5"/>
<use href="#dm" fill="#548235" x="263" y="135"/>
<use href="#dm" fill="#375623" x="263" y="149"/>
<use href="#dm" fill="#00B0F0" x="263" y="163"/>
<use href="#dm" fill="#1F4E79" x="263" y="178"/>
<use href="#dm" fill="#8B5E0A" x="263" y="191"/>
<use href="#dm" fill="#F4B183" x="263" y="202.5"/>
<use href="#dm" fill="#A5460F" x="263" y="218"/>
<use href="#dm" fill="#FFD966" x="504" y="784"/>
<use href="#dm" fill="#7F6000" x="518.5" y="784"/>
<use href="#dm" fill="#A6A6A6" x="534.5" y="784"/>
<use href="#dm" fill="#548235" x="1341" y="133"/>
<use href="#dm" fill="#00B0F0" x="1341" y="148.5"/>
<use href="#dm" fill="#FFD966" x="1341" y="162"/>
<use href="#dm" fill="#8B5E0A" x="1342" y="176"/>
<use href="#dm" fill="#A6A6A6" x="1343" y="188"/>
<use href="#dm" fill="#404040" x="1345" y="201"/>
<use href="#dm" fill="#F4B183" x="1342" y="216"/>
<use href="#dm" fill="#A5460F" x="1343" y="230"/>
<use href="#dm" fill="#FFD966" x="1787" y="250"/>
<use href="#dm" fill="#7F6000" x="1797" y="249"/>
<use href="#dm" fill="#A6A6A6" x="1806" y="255"/>
<use href="#dm" fill="#808080" x="1815" y="249"/>
<use href="#dm" fill="#F4B183" x="1825" y="250"/>
<use href="#dm" fill="#70AD47" x="1948" y="126"/>
<use href="#dm" fill="#548235" x="1959" y="126"/>
<use href="#dm" fill="#00B0F0" x="1972" y="126"/>
<use href="#dm" fill="#2E75B6" x="1981" y="126"/>
<use href="#dm" fill="#1F4E79" x="1990" y="126"/>
<use href="#dm" fill="#FFD966" x="1999" y="126"/>
<use href="#dm" fill="#7F6000" x="2009" y="126"/>
<use href="#dm" fill="#A6A6A6" x="2021" y="126"/>
<use href="#dm" fill="#808080" x="2034" y="126"/>
<use href="#dm" fill="#404040" x="2046" y="126"/>
<use href="#dm" fill="#F8CBAD" x="2059" y="126"/>
<use href="#dm" fill="#F4B183" x="2071" y="126"/>
<use href="#dm" fill="#C55A11" x="2082" y="126"/>
<use href="#dm" fill="#9E480E" x="2092" y="126"/>
<use href="#dm" fill="#70AD47" x="2189.5" y="5"/>
<use href="#dm" fill="#548235" x="2202" y="5"/>
<use href="#dm" fill="#00B0F0" x="2229" y="5"/>
<use href="#dm" fill="#FFD966" x="2241.5" y="5"/>
<use href="#dm" fill="#7F6000" x="2255" y="5"/>
<use href="#dm" fill="#A6A6A6" x="2268.6" y="5"/>
<use href="#dm" fill="#808080" x="2281" y="5"/>
<use href="#dm" fill="#404040" x="2291.5" y="5"/>
<use href="#dm" fill="#F4B183" x="2303" y="5"/>
<use href="#dm" fill="#9E480E" x="2318.6" y="5"/>
<use href="#dm" fill="#70AD47" x="2404" y="799"/>
<use href="#dm" fill="#2E75B6" x="2420" y="799"/>
<use href="#dm" fill="#FFD966" x="2436" y="799"/>
<use href="#dm" fill="#2E75B6" x="2463" y="99"/>
<use href="#dm" fill="#FFD966" x="2485" y="99"/>
<use href="#dm" fill="#F8CBAD" x="2500.6" y="99"/>
<use href="#dm" fill="#5B9BD5" x="2552" y="98"/>
</g>
</svg>
